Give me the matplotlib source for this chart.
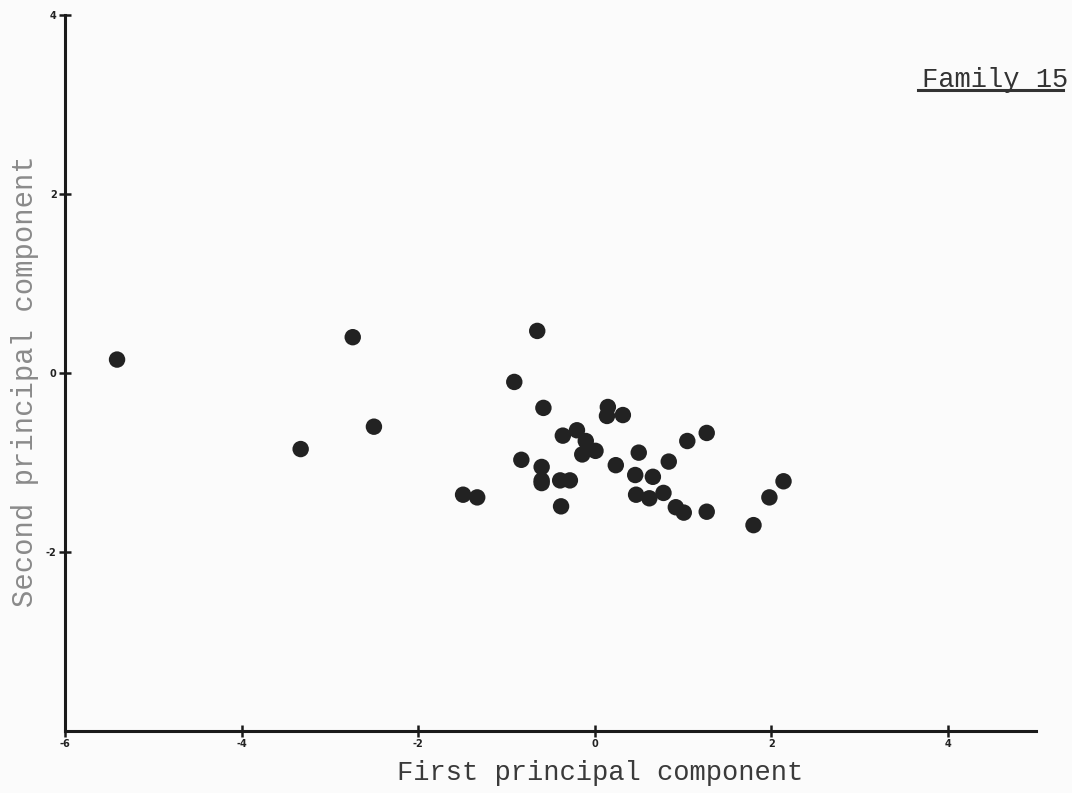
import matplotlib
matplotlib.use("Agg")
import matplotlib.pyplot as plt
from matplotlib.lines import Line2D

# scores on the first two principal components
pc1 = [-5.41, -3.33, -2.74, -2.50, -1.49, -1.33, -0.91, -0.83, -0.65, -0.60,
       -0.60, -0.58, -0.60, -0.39, -0.28, -0.38, -0.36, -0.20, -0.10, -0.14,
       0.01, 0.15, 0.14, 0.32, 0.24, 0.50, 0.46, 0.66, 0.84, 1.05,
       1.27, 0.47, 0.62, 0.78, 0.92, 1.01, 1.27, 1.80, 1.98, 2.14]
pc2 = [0.15, -0.85, 0.40, -0.60, -1.36, -1.39, -0.10, -0.97, 0.47, -1.05,
       -1.23, -0.39, -1.20, -1.20, -1.20, -1.49, -0.70, -0.64, -0.76, -0.91,
       -0.87, -0.38, -0.48, -0.47, -1.03, -0.89, -1.14, -1.16, -0.99, -0.76,
       -0.67, -1.36, -1.40, -1.34, -1.50, -1.56, -1.55, -1.70, -1.39, -1.21]

x_ticks = [-6, -4, -2, 0, 2, 4]
y_ticks = [-2, 0, 2, 4]
title_text = "Family 15"

mono = ["Liberation Mono", "DejaVu Sans Mono"]
bg = "#fbfbfb"

fig = plt.figure(figsize=(10.72, 7.93), dpi=100, facecolor=bg)
ax = fig.add_axes([0.0606, 0.0782, 0.9058, 0.9029])
ax.set_facecolor(bg)

ax.scatter(pc1, pc2, s=140, c="#222222", edgecolors="none", zorder=3)

ax.set_xlim(-6, 5)
ax.set_ylim(-4, 4)
for side in ["top", "right"]:
    ax.spines[side].set_visible(False)
for side in ["left", "bottom"]:
    ax.spines[side].set_linewidth(2.2)
    ax.spines[side].set_color("#1a1a1a")

ax.set_xticks(x_ticks)
ax.set_xticklabels([str(t) for t in x_ticks])
ax.set_yticks(y_ticks)
ax.set_yticklabels([str(t) for t in y_ticks])
ax.tick_params(direction="inout", length=8, width=1.8, color="#1a1a1a",
               labelsize=7, pad=2)
for lab in ax.get_xticklabels() + ax.get_yticklabels():
    lab.set_fontweight("bold")
    lab.set_color("#222222")

# axis titles in typewriter face
fig.text(0.56, 0.025, "First principal component", family=mono, fontsize=19.5,
         color="#3a3a3a", ha="center", va="center")
fig.text(0.023, 0.52, "Second principal component", family=mono, fontsize=20.8,
         color="#8a8a8a", ha="center", va="center", rotation=90)

# underlined label in the corner
fig.text(0.928, 0.899, title_text, family=mono, fontsize=19.5,
         color="#333333", ha="center", va="center")
fig.add_artist(Line2D([0.856, 0.992], [0.886, 0.886], transform=fig.transFigure,
                      color="#333333", lw=2.2))

fig.savefig("out.png", dpi=100, facecolor=bg)
